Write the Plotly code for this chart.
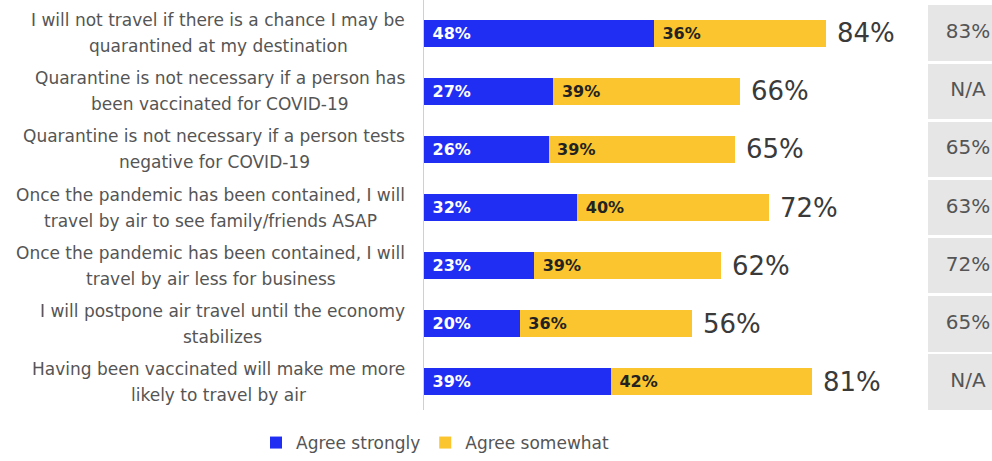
import plotly.graph_objects as go

categories = [
    "I will not travel if there is a chance I may be<br>quarantined at my destination",
    "Quarantine is not necessary if a person has<br>been vaccinated for COVID-19",
    "Quarantine is not necessary if a person tests<br>negative for COVID-19",
    "Once the pandemic has been contained, I will<br>travel by air to see family/friends ASAP",
    "Once the pandemic has been contained, I will<br>travel by air less for business",
    "I will postpone air travel until the economy<br>stabilizes",
    "Having been vaccinated will make me more<br>likely to travel by air",
]
agree_strongly = [48, 27, 26, 32, 23, 20, 39]
agree_somewhat = [36, 39, 39, 40, 39, 36, 42]
totals = [84, 66, 65, 72, 62, 56, 81]
prior = ["83%", "N/A", "65%", "63%", "72%", "65%", "N/A"]

BLUE = "#1f2ef2"
YELLOW = "#fac52e"
FONT = "DejaVu Sans"
LABEL_SIZE = 17

# text width measurement (for right-aligned blocks with centred lines)
try:
    from PIL import ImageFont
    _f = None
    for p in ["/usr/share/fonts/truetype/dejavu/DejaVuSans.ttf",
              "/usr/share/fonts/dejavu/DejaVuSans.ttf",
              "DejaVuSans.ttf"]:
        try:
            _f = ImageFont.truetype(p, LABEL_SIZE)
            break
        except Exception:
            pass
    if _f is None:
        raise ImportError

    def text_w(s):
        return _f.getlength(s)
except Exception:
    def text_w(s):
        return len(s) * LABEL_SIZE * 0.52

W, H = 992, 461
ML, MR, MT, MB = 424, 0, 0, 43
PX_PER_PCT = 4.79
GREY_X = 928
split = (GREY_X - ML) / (W - ML)
ROW = 59.2
n = len(categories)
top = -34 / ROW
bottom = top + (H - MT - MB) / ROW
LABEL_RIGHT = 405  # right edge of label blocks (px)

fig = go.Figure()
fig.add_trace(go.Bar(
    y=categories, x=agree_strongly, orientation="h", name="Agree strongly",
    marker=dict(color=BLUE, line=dict(width=0)), width=0.47,
    text=[f"\u00a0{v}%" for v in agree_strongly], textposition="inside",
    insidetextanchor="start",
    textfont=dict(color="white", size=16, family=FONT, weight="bold"),
    hoverinfo="skip",
))
fig.add_trace(go.Bar(
    y=categories, x=agree_somewhat, orientation="h", name="Agree somewhat",
    marker=dict(color=YELLOW, line=dict(width=0)), width=0.47,
    text=[f"\u00a0{v}%" for v in agree_somewhat], textposition="inside",
    insidetextanchor="start",
    textfont=dict(color="#222222", size=16, family=FONT, weight="bold"),
    hoverinfo="skip",
))
# grey comparison column
fig.add_trace(go.Bar(
    y=categories, x=[1] * n, orientation="h", xaxis="x2",
    marker=dict(color="#e6e6e6", line=dict(width=0)), width=0.96,
    showlegend=False, hoverinfo="skip",
))
fig.add_trace(go.Scatter(
    y=categories, x=[0.5] * n, xaxis="x2", mode="text",
    text=prior, textposition="middle center",
    textfont=dict(color="#555555", size=20, family=FONT),
    showlegend=False, hoverinfo="skip",
))

annotations = []
for cat, tot in zip(categories, totals):
    annotations.append(dict(
        x=tot, y=cat, xref="x", yref="y", text=f"{tot}%", showarrow=False,
        xanchor="left", xshift=9,
        font=dict(size=26, color="#3a3a3a", family=FONT),
    ))
    lines = cat.split("<br>")
    block_w = max(text_w(l) for l in lines)
    center_px = LABEL_RIGHT - block_w / 2
    shifts = [13, -13] if len(lines) == 2 else [0]
    for line, s in zip(lines, shifts):
        annotations.append(dict(
            x=-(ML - center_px) / (W - ML), y=cat, xref="paper", yref="y",
            text=line, showarrow=False, xanchor="center", yshift=s,
            font=dict(size=LABEL_SIZE, color="#555555", family=FONT),
        ))

fig.update_layout(
    width=W, height=H, barmode="stack",
    margin=dict(l=ML, r=MR, t=MT, b=MB),
    paper_bgcolor="white", plot_bgcolor="white",
    font=dict(family=FONT, color="#555555"),
    xaxis=dict(domain=[0, split], range=[0, (GREY_X - ML) / PX_PER_PCT],
               visible=False, fixedrange=True),
    xaxis2=dict(domain=[split, 1], range=[0, 0.8], anchor="y", visible=False,
                fixedrange=True),
    yaxis=dict(range=[bottom, top], showticklabels=False, showgrid=False,
               zeroline=False, showline=True, linecolor="#d0d0d0", linewidth=1,
               ticks="", fixedrange=True),
    legend=dict(orientation="h", x=(435 - ML) / (W - ML), xanchor="center",
                y=-(452 - (H - MB)) / (H - MT - MB), yanchor="middle",
                font=dict(size=17, color="#555555", family=FONT),
                itemwidth=30, traceorder="normal"),
    annotations=annotations,
    showlegend=True,
)

fig.write_html(
    "out.html",
    config={"displayModeBar": False},
    post_script="document.body.style.margin='0';document.body.style.overflow='hidden';",
)
